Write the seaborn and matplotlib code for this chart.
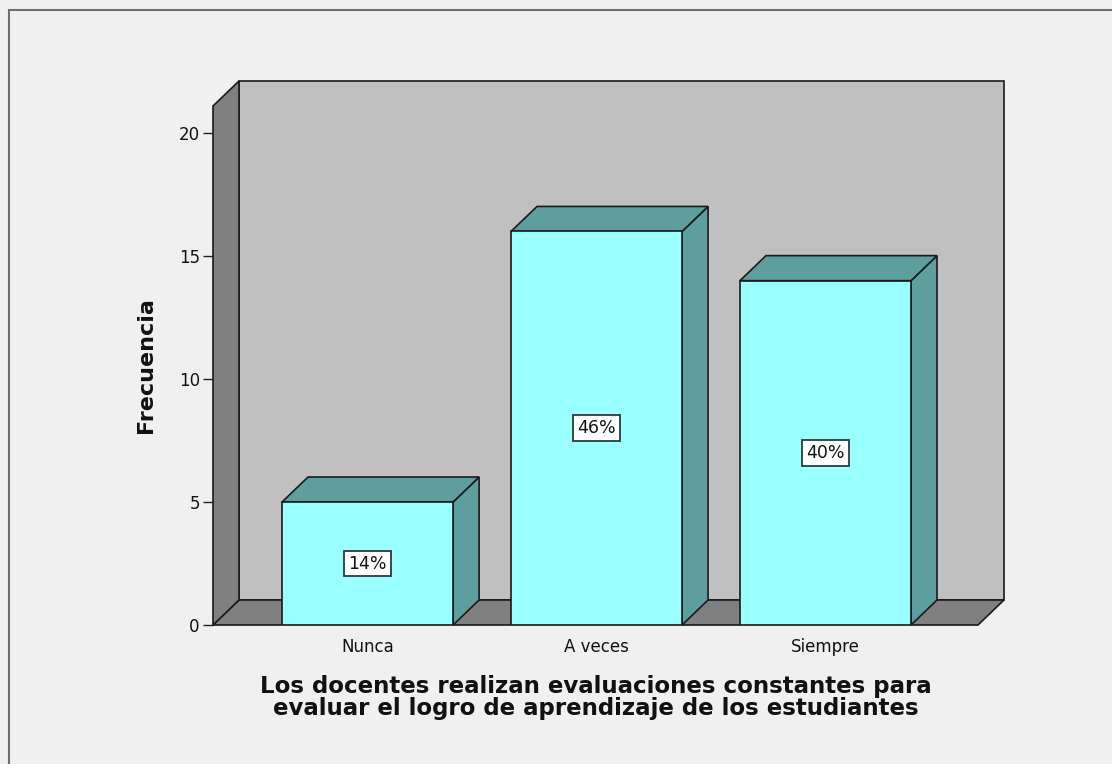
import matplotlib
matplotlib.use("Agg")
import matplotlib.pyplot as plt
from matplotlib.patches import Polygon, Rectangle
import seaborn as sns
import pandas as pd

# Survey answers and their counts
categorias = ["Nunca", "A veces", "Siempre"]
frecuencias = [5, 16, 14]
porcentajes = ["14%", "46%", "40%"]
yticks = [0, 5, 10, 15, 20]

titulo_x = ("Los docentes realizan evaluaciones constantes para\n"
            "evaluar el logro de aprendizaje de los estudiantes")
titulo_y = "Frecuencia"

sns.set_style("white")
plt.rcParams["font.family"] = ["DejaVu Sans"]

W, H = 1112, 764
fig = plt.figure(figsize=(W / 100, H / 100), dpi=100, facecolor="#F0F0F0")
ax = fig.add_axes([213 / W, 1 - 625 / H, (978 - 213) / W, (625 - 106) / H])
ax.set_facecolor("none")

df = pd.DataFrame({"respuesta": categorias, "frecuencia": frecuencias})
sns.barplot(data=df, x="respuesta", y="frecuencia", color="#99FFFF",
            saturation=1, width=0.747, edgecolor="#1a1a1a", linewidth=1.2,
            ax=ax, zorder=5)
bars = list(ax.patches)

xmin, xmax = -0.675, 2.666
ymin, ymax = 0, 21.1
ax.set_xlim(xmin, xmax)
ax.set_ylim(ymin, ymax)

# depth of the 3D box in data units
dx = 26 / 229.0
dy = 25 / 24.6

edge = dict(edgecolor="#1a1a1a", linewidth=1.2, clip_on=False)

# back wall, floor and left wall
ax.add_patch(Rectangle((xmin + dx, ymin + dy), xmax - xmin, ymax - ymin,
                       facecolor="#C0C0C0", zorder=1, **edge))
ax.add_patch(Polygon([(xmin, ymin), (xmax, ymin), (xmax + dx, ymin + dy),
                      (xmin + dx, ymin + dy)], closed=True,
                     facecolor="#808080", zorder=2, **edge))
ax.add_patch(Polygon([(xmin, ymin), (xmin + dx, ymin + dy),
                      (xmin + dx, ymax + dy), (xmin, ymax)], closed=True,
                     facecolor="#808080", zorder=2, **edge))

# side and top faces of every bar, plus the percentage label
for p, lab in zip(bars, porcentajes):
    x0 = p.get_x()
    x1 = x0 + p.get_width()
    h = p.get_height()
    ax.add_patch(Polygon([(x1, 0), (x1 + dx, dy), (x1 + dx, h + dy), (x1, h)],
                         closed=True, facecolor="#5F9E9E", zorder=4, **edge))
    ax.add_patch(Polygon([(x0, h), (x0 + dx, h + dy), (x1 + dx, h + dy), (x1, h)],
                         closed=True, facecolor="#5F9E9E", zorder=4, **edge))
    ax.text(x0 + p.get_width() / 2, h / 2, lab, ha="center", va="center",
            fontsize=12.5, color="#111111", zorder=8,
            bbox=dict(boxstyle="square,pad=0.22", facecolor="white",
                      edgecolor="#2b3a3a", linewidth=1.3))

for s in ax.spines.values():
    s.set_visible(False)

ax.set_yticks(yticks)
ax.set_yticklabels([str(t) for t in yticks])
ax.tick_params(axis="y", length=7.5, width=1.0, color="#222222", left=True,
               labelsize=12, pad=2, labelcolor="#111111")
ax.tick_params(axis="x", length=0, labelsize=12, pad=9, labelcolor="#111111")

ax.set_xlabel(titulo_x, fontsize=16.5, fontweight="bold", labelpad=14,
              linespacing=0.95, color="#111111")
ax.set_ylabel(titulo_y, fontsize=16, fontweight="bold", labelpad=16,
              color="#111111")

# outer frame
fig.add_artist(Rectangle((8.5 / W, -0.1), 1.2, 1.1 - 9.5 / H,
                         transform=fig.transFigure, fill=False,
                         edgecolor="#6E6E6E", linewidth=1.5))

fig.savefig("out.png", dpi=100, facecolor=fig.get_facecolor())
